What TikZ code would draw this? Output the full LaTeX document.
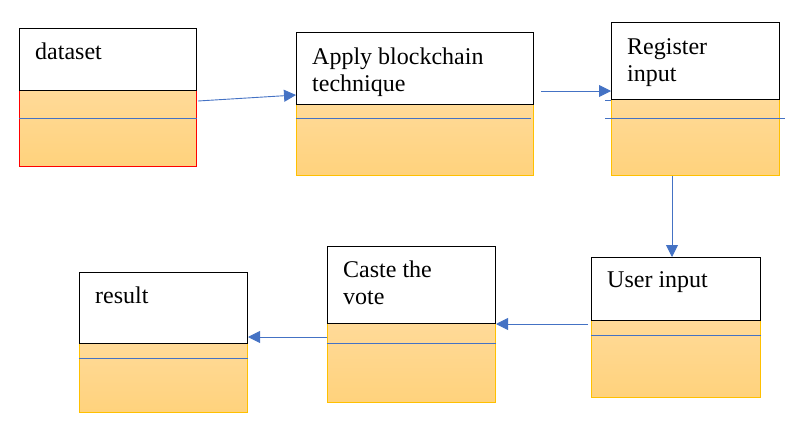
\documentclass[tikz,border=0pt]{standalone}
\usepackage{fontspec}
\setmainfont{Liberation Serif}
\usetikzlibrary{arrows.meta}
\definecolor{lineblue}{HTML}{4472C4}
\definecolor{gold}{HTML}{FFC000}
\definecolor{orTop}{HTML}{FFDA98}
\definecolor{orBot}{HTML}{FFD27C}
\tikzset{
  whitebox/.style={draw=black, line width=1pt, fill=white, anchor=north west, inner sep=0pt, minimum width=#1},
  orangebox/.style={draw=gold, line width=1pt, top color=orTop, bottom color=orBot, anchor=north west, inner sep=0pt, minimum width=#1},
  divider/.style={draw=lineblue, line width=0.9pt},
  flow/.style={draw=lineblue, line width=0.9pt, -{Triangle[length=12pt,width=12pt]}, shorten >=0pt},
  label/.style={anchor=base west, inner sep=0pt, align=left, font=\fontsize{24}{27}\selectfont},
}
\begin{document}
\begin{tikzpicture}[x=1pt,y=-1pt]
\useasboundingbox (0,0) rectangle (787,423);
% box 1 dataset
\node[orangebox=177pt, draw=red, minimum height=76pt] (b1o) at (19,90) {};
\node[whitebox=177pt, minimum height=62pt] (b1w) at (19,28) {};
\draw[divider] ([yshift=-28pt]b1o.north west) -- ([yshift=-28pt]b1o.north east);
\node[label] (t1) at (35,59) {dataset};
% box 2 apply blockchain
\node[orangebox=237pt, minimum height=71pt] (b2o) at (296,104) {};
\node[whitebox=237pt, minimum height=72pt] (b2w) at (296,32) {};
\draw[divider] ([yshift=-14pt]b2o.north west) -- ([xshift=-3pt,yshift=-14pt]b2o.north east);
\node[label] (t2) at (312,91) {Apply blockchain\\technique};
% box 3 register input
\node[orangebox=168pt, minimum height=76pt] (b3o) at (611,99) {};
\node[whitebox=168pt, minimum height=77pt] (b3w) at (611,22) {};
\draw[divider] ([xshift=-6pt,yshift=-19pt]b3o.north west) -- ([xshift=5pt,yshift=-19pt]b3o.north east);
\draw[divider] ([xshift=-6pt]b3w.south west) -- (b3w.south west);
\node[label] (t3) at (627,81) {Register\\input};
% box 4 user input
\node[orangebox=169pt, minimum height=77pt] (b4o) at (591,320) {};
\node[whitebox=169pt, minimum height=63pt] (b4w) at (591,257) {};
\draw[divider] ([yshift=-15pt]b4o.north west) -- ([yshift=-15pt]b4o.north east);
\node[label] (t4) at (607,287) {User input};
% box 5 caste the vote
\node[orangebox=168pt, minimum height=79pt] (b5o) at (327,323) {};
\node[whitebox=168pt, minimum height=77pt] (b5w) at (327,246) {};
\draw[divider] ([yshift=-20pt]b5o.north west) -- ([yshift=-20pt]b5o.north east);
\node[label] (t5) at (343,304) {Caste the\\vote};
% box 6 result
\node[orangebox=168pt, minimum height=69pt] (b6o) at (79,343) {};
\node[whitebox=168pt, minimum height=71pt] (b6w) at (79,272) {};
\draw[divider] ([yshift=-15pt]b6o.north west) -- ([yshift=-15pt]b6o.north east);
\node[label] (t6) at (95,303) {result};
% connectors
\draw[flow] ([xshift=1pt,yshift=-11pt]b1o.north east) -- ([yshift=10pt]b2w.south west);
\draw[flow] ([xshift=7pt,yshift=14pt]b2w.south east) -- ([yshift=9pt]b3w.south west);
\draw[flow] (b3o.south -| b4w.north) ++(-4pt,0) coordinate (c3) -- (c3 |- b4w.north);
\draw[flow] ([xshift=-3pt,yshift=-3pt]b4w.south west) -- (b5w.south east);
\draw[flow] ([yshift=-13pt]b5w.south west) -- ([yshift=7pt]b6w.south east);
\end{tikzpicture}
\end{document}
